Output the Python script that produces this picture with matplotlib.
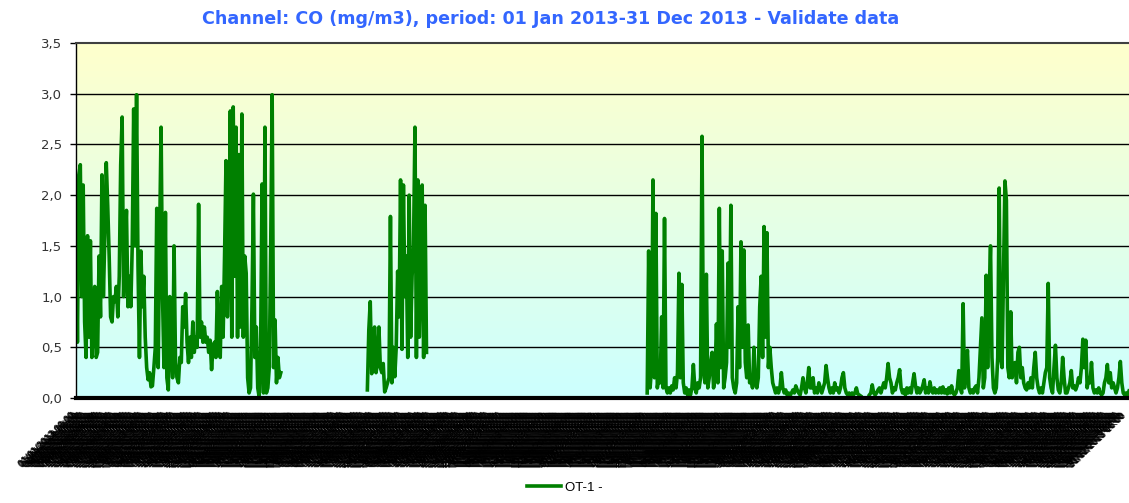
import numpy as np
import matplotlib
matplotlib.use("Agg")
import matplotlib.pyplot as plt
from matplotlib.colors import LinearSegmentedColormap
import datetime as dt

# CO concentration (mg/m3), values read every half day, day-of-year as x
seg1_start = 0.0
seg1 = [1.85, 0.55, 2.2, 2.3, 1.0, 2.1, 0.75, 0.4, 1.6, 0.6,
        1.55, 0.4, 0.7, 1.1, 0.4, 0.45, 1.4, 0.8, 2.2, 1.0,
        1.6, 2.32, 1.9, 1.4, 0.8, 0.75, 1.0, 0.95, 1.1, 0.8,
        1.2, 2.3, 2.77, 1.0, 1.5, 1.85, 0.9, 1.2, 0.9, 1.5,
        2.85, 1.5, 2.99, 1.3, 0.4, 1.45, 0.9, 1.2, 0.6, 0.3,
        0.18, 0.25, 0.11, 0.12, 0.3, 0.5, 1.87, 0.3, 1.6, 2.67,
        1.0, 0.3, 1.83, 0.2, 0.08, 1.0, 0.5, 0.2, 1.5, 0.35,
        0.2, 0.15, 0.4, 0.35, 0.9, 0.7, 1.03, 0.55, 0.35, 0.6,
        0.4, 0.75, 0.45, 0.6, 0.5, 1.91, 0.6, 0.75, 0.55, 0.7,
        0.55, 0.6, 0.45, 0.57, 0.28, 0.5, 0.55, 0.4, 1.05, 0.55,
        0.4, 1.1, 0.6, 1.4, 2.34, 0.8, 1.5, 2.83, 0.6, 2.87,
        1.2, 2.67, 0.6, 2.4, 0.7, 2.8, 0.6, 1.4, 1.23, 0.2,
        0.05, 0.1, 0.9, 2.01, 0.4, 0.7, 0.1, 0.01, 0.5, 2.11,
        0.05, 2.67, 0.05, 0.1, 0.3, 1.5, 2.99, 0.3, 0.77, 0.15,
        0.4, 0.2, 0.25]

seg2_start = 101.0
seg2 = [0.08, 0.67, 0.95, 0.24, 0.45, 0.7, 0.25, 0.35, 0.7, 0.3,
        0.25, 0.34, 0.06, 0.1, 0.15, 0.2, 1.79, 0.15, 0.5, 0.21,
        0.5, 1.25, 0.8, 2.15, 0.48, 2.1, 1.0, 1.4, 0.4, 2.0,
        0.6, 1.2, 1.5, 2.67, 0.4, 2.15, 0.6, 1.2, 2.1, 0.4,
        1.9, 0.45]

seg3_start = 198.0
seg3 = [0.05, 1.45, 0.1, 0.3, 2.15, 0.2, 1.82, 0.1, 0.2, 0.15,
        0.8, 0.1, 1.77, 0.1, 0.05, 0.1, 0.05, 0.12, 0.08, 0.2,
        0.1, 0.25, 1.23, 0.2, 1.12, 0.15, 0.05, 0.1, 0.03, 0.08,
        0.03, 0.1, 0.33, 0.1, 0.05, 0.15, 0.1, 0.2, 2.58, 0.3,
        0.15, 1.22, 0.1, 0.2, 0.35, 0.45, 0.1, 0.2, 0.73, 0.15,
        1.87, 0.3, 1.45, 0.1, 0.2, 0.35, 1.33, 0.5, 1.9, 0.2,
        0.1, 0.05, 0.15, 0.9, 0.3, 1.54, 0.5, 1.46, 0.35, 0.2,
        0.72, 0.15, 0.2, 0.1, 0.5, 0.15, 0.1, 0.2, 0.9, 1.2,
        0.4, 1.69, 0.6, 1.63, 0.3, 0.5, 0.3, 0.15, 0.1, 0.05,
        0.1, 0.05, 0.1, 0.25, 0.1, 0.05, 0.08, 0.03, 0.05, 0.02,
        0.05, 0.08, 0.05, 0.12, 0.08, 0.05, 0.03, 0.1, 0.2, 0.1,
        0.05, 0.15, 0.3, 0.1, 0.1, 0.2, 0.05, 0.1, 0.05, 0.15,
        0.1, 0.05, 0.1, 0.15, 0.32, 0.2, 0.1, 0.05, 0.1, 0.05,
        0.15, 0.08, 0.1, 0.05, 0.1, 0.2, 0.25, 0.1, 0.05, 0.03,
        0.05, 0.02, 0.05, 0.03, 0.05, 0.1, 0.04, 0.03, 0.02, None,
        None, None, None, None, 0.03, 0.05, 0.13, 0.05, 0.03, 0.05,
        0.08, 0.1, 0.05, 0.1, 0.15, 0.1, 0.2, 0.34, 0.2, 0.15,
        0.05, 0.1, 0.08, 0.15, 0.2, 0.28, 0.1, 0.05, 0.08, 0.03,
        0.1, 0.05, 0.1, 0.05, 0.15, 0.24, 0.12, 0.05, 0.1, 0.05,
        0.08, 0.12, 0.18, 0.05, 0.1, 0.05, 0.16, 0.08, 0.05, 0.1,
        0.05, 0.08, 0.05, 0.1, 0.05, 0.11, 0.05, 0.08, 0.04, 0.1,
        0.05, 0.12, 0.05, 0.03, 0.05, 0.1, 0.27, 0.1, 0.05, 0.93,
        0.1, 0.3, 0.47, 0.1, 0.05, 0.08, 0.05, 0.1, 0.12, 0.05,
        0.2, 0.5, 0.79, 0.1, 0.2, 1.21, 0.3, 1.0, 1.5, 0.4,
        0.1, 0.05, 0.1, 0.4, 2.07, 0.4, 0.3, 1.2, 2.14, 1.95,
        0.3, 0.2, 0.85, 0.2, 0.3, 0.35, 0.15, 0.45, 0.5, 0.2,
        0.3, 0.15, 0.1, 0.08, 0.15, 0.1, 0.2, 0.1, 0.3, 0.45,
        0.2, 0.1, 0.05, 0.1, 0.05, 0.15, 0.25, 0.3, 1.13, 0.2,
        0.1, 0.05, 0.3, 0.52, 0.2, 0.08, 0.05, 0.15, 0.4, 0.2,
        0.05, 0.05, 0.1, 0.15, 0.27, 0.1, 0.12, 0.08, 0.12, 0.2,
        0.15, 0.3, 0.58, 0.3, 0.57, 0.1, 0.2, 0.15, 0.35, 0.1,
        0.05, 0.08, 0.05, 0.1, 0.05, 0.03, 0.05, 0.15, 0.2, 0.33,
        0.15, 0.25, 0.1, 0.15, 0.1, 0.05, 0.1, 0.2, 0.36, 0.15,
        0.05, 0.03, 0.05, 0.03, 0.07]

step = 0.5
series_name = "OT-1 -"
title = "Channel: CO (mg/m3), period: 01 Jan 2013-31 Dec 2013 - Validate data"
yticks = [0.0, 0.5, 1.0, 1.5, 2.0, 2.5, 3.0, 3.5]


def to_xy(start, vals):
    y = np.array([np.nan if v is None else v for v in vals], dtype=float)
    x = start + step * np.arange(len(y))
    return x, y


xs, ys = [], []
for start, vals in [(seg1_start, seg1), (seg2_start, seg2), (seg3_start, seg3)]:
    x, y = to_xy(start, vals)
    xs += [x, [x[-1] + step / 2]]
    ys += [y, [np.nan]]
x = np.concatenate(xs)
y = np.concatenate(ys)

fig = plt.figure(figsize=(11.29, 5.03), dpi=100)
ax = fig.add_axes([0.0673, 0.2087, 0.9327, 0.7058])

# yellow-to-cyan background
cmap = LinearSegmentedColormap.from_list("bg", ["#CCFFFF", "#FFFFCC"])
ax.imshow(np.linspace(0, 1, 256).reshape(-1, 1), cmap=cmap, aspect="auto",
          origin="lower", extent=[0, 365, 0, 3.5], zorder=0)

for t in yticks[1:-1]:
    ax.axhline(t, color="black", lw=1, zorder=1)

ax.plot(x, y, color="#008000", lw=2.6, solid_joinstyle="round", zorder=2,
        label=series_name)

ax.set_xlim(0, 365)
ax.set_ylim(0, 3.5)
ax.set_yticks(yticks)
ax.set_yticklabels([f"{t:.1f}".replace(".", ",") for t in yticks],
                   fontsize=9.5, color="#333333")
ax.tick_params(axis="y", length=4, width=1, pad=6)

# the dense date labels of the category axis (one every 8 hours)
tick_days = np.arange(0, 365, 1 / 3)
base = dt.datetime(2013, 1, 1)
labels = [(base + dt.timedelta(days=float(d))).strftime("%d/%m/%Y %H:%M")
          for d in tick_days]
ax.set_xticks(tick_days)
ax.set_xticklabels(labels, rotation=44, ha="right", va="top", fontsize=6)
ax.tick_params(axis="x", length=0, pad=9)

ax.spines["right"].set_visible(False)
ax.spines["top"].set_color("#404040")
ax.spines["top"].set_linewidth(1.5)
ax.spines["left"].set_linewidth(1)
ax.spines["bottom"].set_linewidth(3)

fig.text(0.488, 0.962, title, ha="center", va="center", fontsize=12.6,
         fontweight="bold", color="#3366FF")

fig.legend(loc="lower center", bbox_to_anchor=(0.5, -0.005), frameon=False,
           handlelength=2.6, handletextpad=0.3,
           prop={"family": "Liberation Sans", "size": 9.5})

fig.savefig("out.png", dpi=100)
